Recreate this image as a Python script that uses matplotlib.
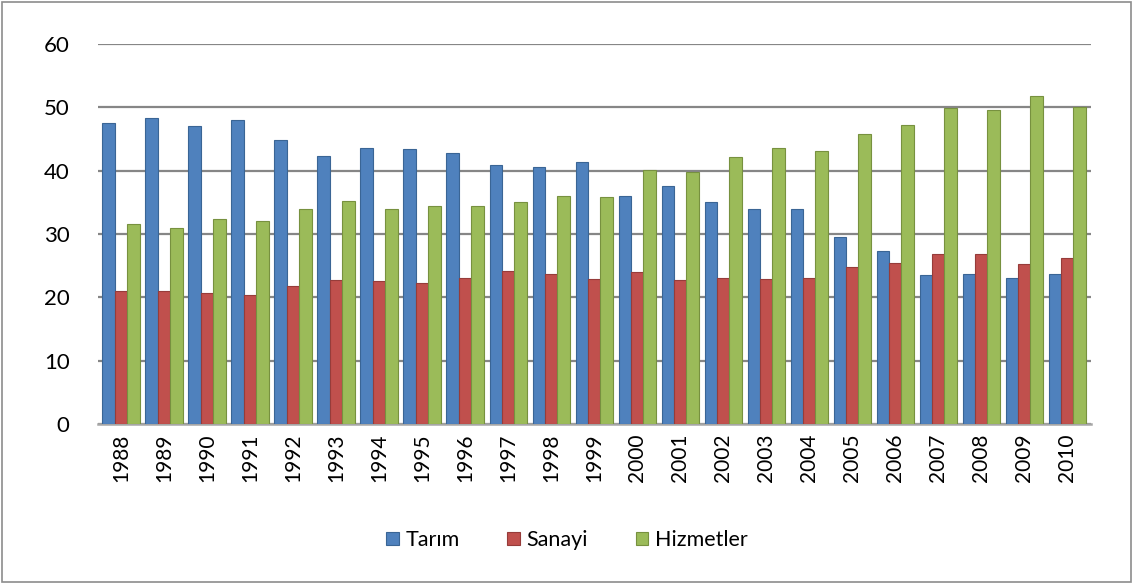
import numpy as np
from matplotlib import pyplot as plt
from matplotlib.patches import Rectangle

years = ['1988', '1989', '1990', '1991', '1992', '1993', '1994', '1995', '1996', '1997', '1998', '1999',
         '2000', '2001', '2002', '2003', '2004', '2005', '2006', '2007', '2008', '2009', '2010']
tarim = [47.5, 48.3, 47.0, 48.0, 44.8, 42.3, 43.6, 43.4, 42.8, 40.9, 40.6, 41.4,
         36.0, 37.6, 35.0, 34.0, 34.0, 29.5, 27.3, 23.5, 23.7, 23.1, 23.7]
sanayi = [21.0, 21.0, 20.7, 20.3, 21.7, 22.7, 22.6, 22.3, 23.0, 24.1, 23.6, 22.9,
          24.0, 22.8, 23.0, 22.9, 23.0, 24.8, 25.4, 26.8, 26.8, 25.3, 26.2]
hizmetler = [31.5, 31.0, 32.4, 32.0, 33.9, 35.2, 33.9, 34.4, 34.4, 35.1, 36.0, 35.8,
             40.1, 39.8, 42.1, 43.5, 43.1, 45.8, 47.2, 49.8, 49.5, 51.7, 50.1]
series_names = ['Tarım', 'Sanayi', 'Hizmetler']

colors = ['#4F81BD', '#C0504D', '#9BBB59']
edges = ['#3A6595', '#963C3A', '#77913F']

plt.rcParams['font.family'] = ['Lato', 'DejaVu Sans']

fig = plt.figure(figsize=(11.34, 5.84), dpi=100)
ax = fig.add_axes([0.086, 0.274, 0.876, 0.651])

x = np.arange(len(years))
w = 0.29
for i, (vals, name) in enumerate(zip([tarim, sanayi, hizmetler], series_names)):
    ax.bar(x + (i - 1) * w, vals, width=w, color=colors[i], edgecolor=edges[i],
           linewidth=0.8, label=name, zorder=3)

ax.set_ylim(0, 60)
ax.set_xlim(-0.55, len(years) - 0.45)
ax.set_yticks(range(0, 61, 10))
ax.set_xticks(x)
ax.set_xticklabels(years, rotation=90, fontsize=15)
ax.tick_params(axis='y', labelsize=16, length=0, pad=20)
ax.tick_params(axis='x', length=0, pad=7)
ax.yaxis.grid(True, color='#868686', linewidth=1.6, zorder=0)
for s in ['top', 'right', 'left']:
    ax.spines[s].set_visible(False)
ax.spines['bottom'].set_color('#A6A6A6')
ax.spines['bottom'].set_linewidth(1.8)

fig.legend(loc='lower center', bbox_to_anchor=(0.5, 0.025), ncol=3, frameon=False,
           fontsize=15.5, handlelength=0.6, handleheight=0.6, handletextpad=0.3, columnspacing=2.2)

fig.patches.append(Rectangle((0.002, 0.003), 0.995, 0.993, transform=fig.transFigure,
                             fill=False, edgecolor='#8C8C8C', linewidth=1.2))

plt.savefig('out.png', dpi=100)
